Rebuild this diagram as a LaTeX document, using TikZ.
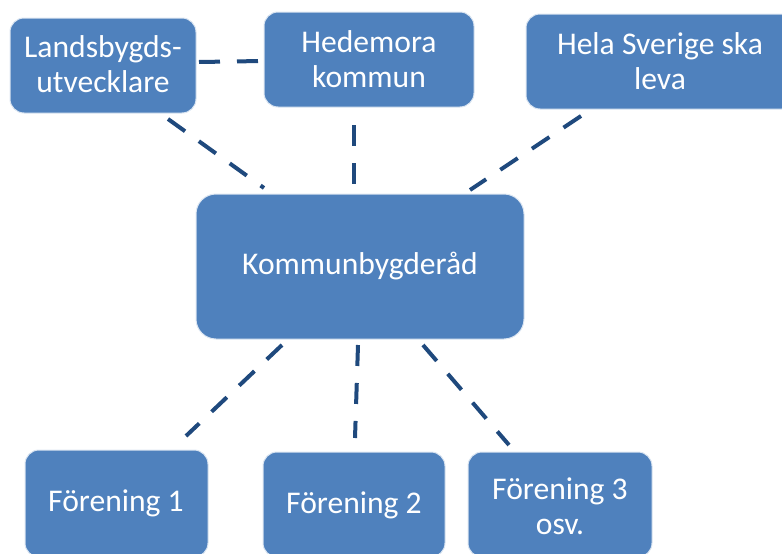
\documentclass[tikz,border=0pt]{standalone}
\usepackage{fontspec}
\setmainfont{Carlito}
\definecolor{boxfill}{HTML}{4F81BD}
\definecolor{boxline}{HTML}{DCE6F2}
\definecolor{linkcol}{HTML}{1F497D}
\begin{document}
\begin{tikzpicture}[x=1pt,y=-1pt,
  box/.style={draw=boxline,line width=1pt,fill=boxfill,rounded corners=14pt},
  lbl/.style={text=white,font=\fontsize{31.6}{35}\selectfont,align=center},
  link/.style={draw=linkcol,line width=4pt,dash pattern=on 21pt off 17pt}]
\useasboundingbox (0,0) rectangle (782,554);
\begin{scope}
\clip (0,0) rectangle (782,554);
% boxes
\path[box] (10,18) rectangle (196,113);
\node[lbl] (L) at (103,64) {Landsbygds-\\utvecklare};
\path[box] (264,12) rectangle (474,107);
\node[lbl] (H) at (369,59) {Hedemora\\kommun};
\path[box] (526,14) rectangle (796,109);
\node[lbl] (S) at (660,61) {Hela Sverige ska\\leva};
\path[box,rounded corners=20pt] (196,194) rectangle (524,339);
\node[lbl] (K) at (360,266) {Kommunbygderåd};
\path[box] (25,450) rectangle (208,557);
\node[lbl] (F1) at (116,503) {Förening 1};
\path[box] (263,452) rectangle (445,557);
\node[lbl] (F2) at (354,505) {Förening 2};
\path[box] (468,452) rectangle (652,557);
\node[lbl] (F3) at (560,506) {Förening 3\\osv.};
\end{scope}
% connector end points
\coordinate (lh1) at (199,62);
\coordinate (lh2) at (262,61);
\coordinate (lk1) at (168,119);
\coordinate (lk2) at (264,188);
\coordinate (hk1) at (354,125);
\coordinate (hk2) at (354,186);
\coordinate (sk1) at (581,116);
\coordinate (sk2) at (470,190);
\coordinate (k11) at (282,345);
\coordinate (k12) at (186,436);
\coordinate (k21) at (358,345);
\coordinate (k22) at (355,438);
\coordinate (k31) at (423,345);
\coordinate (k32) at (509,445);
\draw[link] (lh1) -- (lh2);
\draw[link] (lk1) -- (lk2);
\draw[link] (hk1) -- (hk2);
\draw[link] (sk1) -- (sk2);
\draw[link] (k11) -- (k12);
\draw[link] (k21) -- (k22);
\draw[link] (k31) -- (k32);
\end{tikzpicture}
\end{document}
